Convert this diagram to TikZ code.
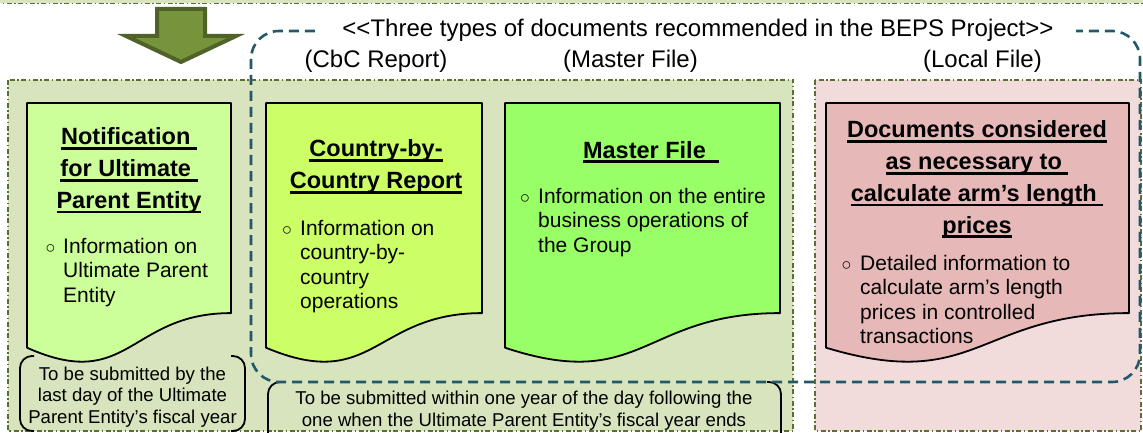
\documentclass[tikz,border=0pt]{standalone}
\usepackage{fontspec}
\setmainfont{Liberation Sans}
\definecolor{greenbg}{HTML}{D7E4BD}
\definecolor{pinkbg}{HTML}{F2DCDB}
\definecolor{olivedk}{HTML}{5B6E34}
\definecolor{arrowfill}{HTML}{77933C}
\definecolor{arrowdraw}{HTML}{4F6228}
\definecolor{tealdk}{HTML}{215968}
\definecolor{cnotif}{HTML}{CCFF99}
\definecolor{ccbc}{HTML}{CCFF66}
\definecolor{cmaster}{HTML}{99FF66}
\definecolor{cdocs}{HTML}{E6B9B8}
\newsavebox\ulbx
\newcommand\ulb[1]{\sbox\ulbx{#1}\rlap{\rule[-5pt]{\wd\ulbx}{2.8pt}}\usebox\ulbx}
\newcommand\mlc[1]{\begin{tabular}[t]{@{}c@{}}#1\end{tabular}}
\newcommand\mll[1]{\begin{tabular}[t]{@{}l@{}}#1\end{tabular}}
\begin{document}
\begin{tikzpicture}[x=1pt,y=-1pt,
  region/.style={draw=olivedk, line width=1.4pt, dash pattern=on 5pt off 2.5pt on 1.5pt off 2.5pt},
  docbox/.style={draw=black, line width=1.8pt, line join=round},
  bluedash/.style={draw=tealdk, line width=2.6pt, dash pattern=on 10pt off 6pt},
  bracket/.style={draw=black, line width=1.8pt, rounded corners=12pt},
  toplbl/.style={font=\fontsize{24}{28}\selectfont, inner sep=0pt, anchor=base},
  ttl/.style={font=\fontsize{23.5}{31.7}\selectfont\bfseries, inner sep=0pt, anchor=base},
  body/.style={font=\fontsize{21}{24.5}\selectfont, inner sep=0pt, anchor=base west},
  bul/.style={font=\fontsize{17}{20}\selectfont, inner sep=0pt, anchor=base},
  note/.style={font=\fontsize{18.6}{21.5}\selectfont, inner sep=0pt, anchor=base},
]
\useasboundingbox (0,0) rectangle (1143,433);
\clip (0,0) rectangle (1143,433);
% top strip
\path[fill=greenbg] (-5,-10) rectangle (1148,3.5);
\draw[region] (-5,3.5) -- (1148,3.5);
% regions
\path[region, fill=greenbg] (8,80) rectangle (793,431);
\path[region, fill=pinkbg] (815,80) rectangle (1141,431);
% arrow
\draw[fill=arrowfill, draw=arrowdraw, line width=4pt, line join=miter]
  (157,9) -- (205,9) -- (205,36) -- (236,36) -- (181,62) -- (126,36) -- (157,36) -- cycle;
% document boxes
\path[docbox, fill=cnotif] (27,103) -- (231,103) -- (231,313.1)
  .. controls (129,313.1) and (129,393.2) .. (27,347.7) -- cycle;
\path[docbox, fill=ccbc] (266,103) -- (482,103) -- (482,313.1)
  .. controls (374,313.1) and (374,393.2) .. (266,347.7) -- cycle;
\path[docbox, fill=cmaster] (505,103) -- (780,103) -- (780,313.1)
  .. controls (642.5,313.1) and (642.5,393.2) .. (505,347.7) -- cycle;
\path[docbox, fill=cdocs] (826,103) -- (1129,103) -- (1129,313.1)
  .. controls (977.5,313.1) and (977.5,393.2) .. (826,347.7) -- cycle;
% note brackets
\draw[bracket] (34,356) -- (20,356) -- (20,431) -- (34,431);
\draw[bracket] (231,356) -- (245,356) -- (245,431) -- (231,431);
\draw[bracket] (282,382) -- (268,382) -- (268,470) -- (282,470);
\draw[bracket] (767,382) -- (781,382) -- (781,470) -- (767,470);
% blue dashed group
\draw[bluedash, rounded corners=28pt] (251,31) rectangle (1140,382);
% top labels
\node[toplbl, fill=white, inner xsep=22pt, inner ysep=3pt] (beps) at (698,37)
  {<{}<Three types of documents recommended in the BEPS Project>{}>};
\node[toplbl] (lcbc) at (376,68) {(CbC Report)};
\node[toplbl] (lmaster) at (630.5,68) {(Master File)};
\node[toplbl] (llocal) at (982.5,68) {(Local File)};
% titles
\node[ttl] (tnotif) at (129,145) {\mlc{\ulb{Notification\ }\\ \ulb{for Ultimate\ }\\ \ulb{Parent Entity}}};
\node[ttl] (tcbc) at (376,157) {\mlc{\ulb{Country-by-}\\ \ulb{Country Report}}};
\node[ttl] (tmaster) at (651,158) {\ulb{Master File\ \ }};
\node[ttl] (tdocs) at (977,138) {\mlc{\ulb{Documents considered}\\ \ulb{as necessary to\ }\\ \ulb{calculate arm’s length\ }\\ \ulb{prices}}};
% bullets
\node[bul] (bnotif) at (50.5,253) {○};
\node[body] (xnotif) at (63,253) {\mll{Information on\\ Ultimate Parent\\ Entity}};
\node[bul] (bcbc) at (287,235) {○};
\node[body] (xcbc) at (300,235) {\mll{Information on\\ country-by-\\ country\\ operations}};
\node[bul] (bmaster) at (525,203) {○};
\node[body] (xmaster) at (538,203) {\mll{Information on the entire\\ business operations of\\ the Group}};
\node[bul] (bdocs) at (846.5,270) {○};
\node[body] (xdocs) at (860,270) {\mll{Detailed information to\\ calculate arm’s length\\ prices in controlled\\ transactions}};
% notes
\node[note] (n1) at (132.5,380) {\mlc{To be submitted by the\\ last day of the Ultimate\\ Parent Entity’s fiscal year}};
\node[note] (n2) at (524,404.5) {\mlc{To be submitted within one year of the day following the\\ one when the Ultimate Parent Entity’s fiscal year ends}};
\end{tikzpicture}
\end{document}
